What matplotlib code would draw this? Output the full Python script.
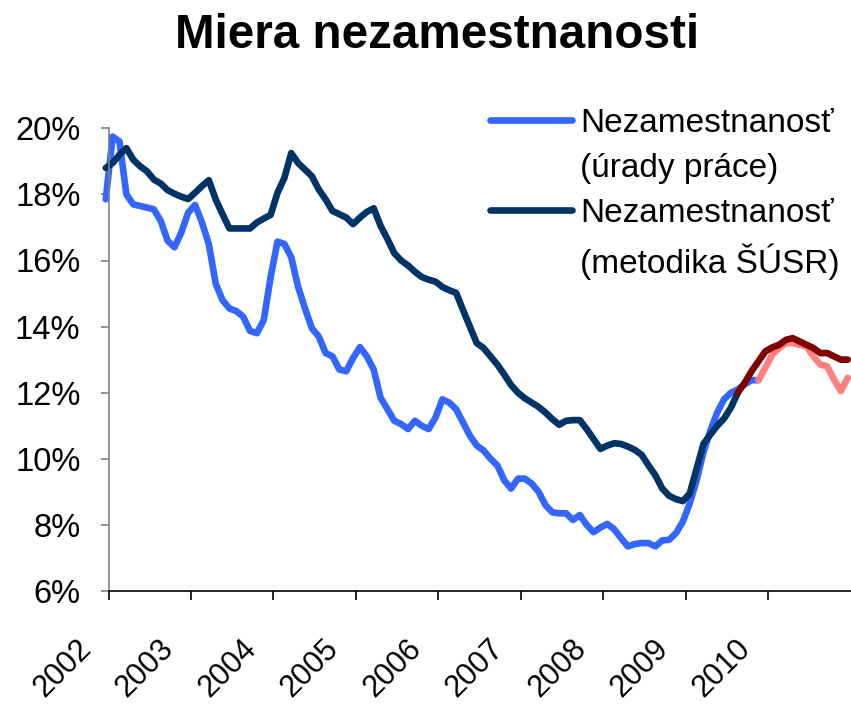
import numpy as np
import matplotlib
matplotlib.use('Agg')
import matplotlib.pyplot as plt
from matplotlib.lines import Line2D
import matplotlib.transforms as mtransforms

plt.rcParams['font.family'] = ['Liberation Sans', 'DejaVu Sans']

title = "Miera nezamestnanosti"
year_ticks = [2002, 2003, 2004, 2005, 2006, 2007, 2008, 2009, 2010]
y_ticks = [6, 8, 10, 12, 14, 16, 18, 20]
label_urady = ["Nezamestnanosť", "(úrady práce)"]
label_susr = ["Nezamestnanosť", "(metodika ŠÚSR)"]

# monthly values, first month just before Jan 2002
urady = [17.85, 19.75, 19.6, 18.0, 17.7, 17.65, 17.6, 17.55, 17.2, 16.6,
         16.4, 16.85, 17.45, 17.68, 17.15, 16.5, 15.3, 14.8, 14.55, 14.47,
         14.3, 13.87, 13.8, 14.2, 15.5, 16.57, 16.5, 16.1, 15.2, 14.55,
         13.95, 13.7, 13.2, 13.1, 12.7, 12.65, 13.05, 13.38, 13.1, 12.7,
         11.85, 11.5, 11.15, 11.05, 10.9, 11.15, 11.0, 10.9, 11.25, 11.8,
         11.7, 11.5, 11.1, 10.7, 10.4, 10.25, 10.0, 9.8, 9.35, 9.1,
         9.4, 9.4, 9.25, 9.0, 8.6, 8.38, 8.35, 8.35, 8.15, 8.3,
         8.0, 7.78, 7.92, 8.03, 7.87, 7.6, 7.35, 7.42, 7.45, 7.45,
         7.35, 7.53, 7.55, 7.75, 8.1, 8.65, 9.35, 10.2, 10.85, 11.4,
         11.8, 12.0, 12.1, 12.25, 12.38, 12.38]
urady_fc = [12.38, 12.75, 13.15, 13.35, 13.5, 13.5, 13.45, 13.4, 13.1, 12.85,
            12.8, 12.4, 12.05, 12.45]
susr = [18.8, 18.95, 19.2, 19.4, 19.05, 18.85, 18.7, 18.45, 18.33, 18.13,
        18.02, 17.93, 17.86, 18.05, 18.25, 18.43, 17.85, 17.4, 16.97, 16.97,
        16.97, 16.97, 17.15, 17.27, 17.38, 18.05, 18.5, 19.25, 18.95, 18.75,
        18.55, 18.15, 17.85, 17.5, 17.4, 17.3, 17.1, 17.3, 17.47, 17.58,
        17.05, 16.65, 16.22, 16.0, 15.85, 15.66, 15.5, 15.42, 15.36, 15.2,
        15.1, 15.02, 14.5, 14.0, 13.5, 13.35, 13.1, 12.85, 12.55, 12.23,
        12.0, 11.83, 11.7, 11.57, 11.4, 11.2, 11.03, 11.15, 11.17, 11.17,
        10.9, 10.6, 10.3, 10.4, 10.47, 10.45, 10.37, 10.27, 10.12, 9.8,
        9.5, 9.1, 8.88, 8.78, 8.72, 8.95, 9.7, 10.45, 10.73, 11.0,
        11.22, 11.55, 12.0]
susr_fc = [12.0, 12.3, 12.65, 12.95, 13.25, 13.37, 13.45, 13.6, 13.65, 13.55,
           13.45, 13.35, 13.2, 13.2, 13.1, 13.0, 13.0]

c_urady = '#3366FF'
c_urady_fc = '#FF8080'
c_susr = '#003366'
c_susr_fc = '#800000'

n_total = len(urady) + len(urady_fc) - 1
t = 2002 + (np.arange(n_total) - 0.4) / 12.0

W, H = 851, 706
fig = plt.figure(figsize=(W / 100, H / 100), dpi=100)
ax = fig.add_axes([108.5 / W, 115 / H, (850.5 - 108.5) / W, (591 - 128.3) / H])

lw = 4.8
kw = dict(lw=lw, solid_capstyle='round', solid_joinstyle='round', clip_on=False)
n1 = len(urady)
ax.plot(t[:n1], urady, color=c_urady, **kw)
ax.plot(t[n1 - 1:n1 - 1 + len(urady_fc)], urady_fc, color=c_urady_fc, **kw)
n2 = len(susr)
ax.plot(t[:n2], susr, color=c_susr, **kw)
ax.plot(t[n2 - 1:n2 - 1 + len(susr_fc)], susr_fc, color=c_susr_fc, **kw)

ax.set_xlim(2002, 2011)
ax.set_ylim(6, 20)
ax.set_yticks(y_ticks)
ax.set_yticklabels([f"{v}%" for v in y_ticks])
ax.set_xticks(year_ticks)
ax.set_xticklabels([str(y) for y in year_ticks], rotation=45, ha='right', va='top')

for s in ['top', 'right']:
    ax.spines[s].set_visible(False)
ax.spines['left'].set_color('#808080')
ax.spines['left'].set_linewidth(1.2)
ax.spines['bottom'].set_color('black')
ax.spines['bottom'].set_linewidth(1.2)

ax.tick_params(axis='y', length=5.8, width=1.2, color='#808080', pad=14.4,
               labelsize=23.5, labelcolor='black')
ax.tick_params(axis='x', length=6.5, width=1.2, color='black', pad=24,
               labelsize=22, labelcolor='black')
off = mtransforms.ScaledTranslation(-11 / 100, 0, fig.dpi_scale_trans)
for lab in ax.get_xticklabels():
    lab.set_transform(lab.get_transform() + off)

fig.text(437.5 / W, 1 - 48 / H, title, ha='center', va='baseline',
         fontsize=34.3, fontweight='bold')

handles = [Line2D([], [], color=c_urady, lw=lw, solid_capstyle='round'),
           Line2D([], [], color='none'),
           Line2D([], [], color=c_susr, lw=lw, solid_capstyle='round'),
           Line2D([], [], color='none')]
labels = [label_urady[0], label_urady[1], label_susr[0], label_susr[1]]
fig.legend(handles, labels, loc='upper left', bbox_to_anchor=(490 / W, 1 - 108 / H),
           frameon=False, fontsize=24, handlelength=2.45, handletextpad=0.25,
           labelspacing=0.42, borderpad=0, borderaxespad=0)

fig.savefig('out.png', dpi=100)
